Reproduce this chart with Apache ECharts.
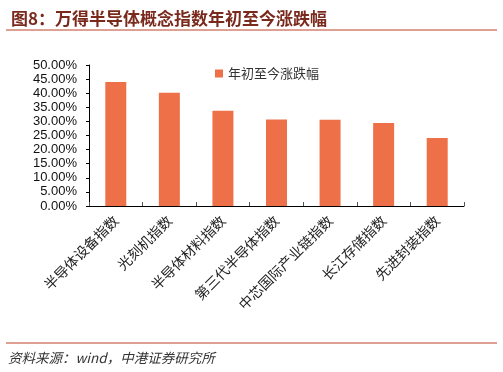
<!DOCTYPE html>
<html><head><meta charset="utf-8">
<script src="https://cdn.jsdelivr.net/npm/echarts@6/dist/echarts.min.js"></script>
<style>html,body{margin:0;padding:0;background:#fff}#c{width:503px;height:372px}</style>
</head><body><div id="c"></div>
<script>
const categories = ['半导体设备指数','光刻机指数','半导体材料指数','第三代半导体指数','中芯国际产业链指数','长江存储指数','先进封装指数'];
const values = [44.0, 40.2, 33.8, 30.7, 30.6, 29.4, 24.1];
const seriesName = '年初至今涨跌幅';
const titleText = '图8：万得半导体概念指数年初至今涨跌幅';
const sourceText = '资料来源：wind，中港证券研究所';

const chart = echarts.init(document.getElementById('c'), null, {renderer:'canvas'});
chart.setOption({
  animation:false,
  title:{text:titleText, left:6, top:5, textStyle:{fontSize:17, fontWeight:'bold', color:'#7a2a1c', fontFamily:'Noto Sans CJK SC'}},
  legend:{data:[seriesName], left:210, top:62, itemWidth:8, itemHeight:8, itemGap:4, icon:'rect',
    textStyle:{fontSize:13, color:'#333', fontFamily:'Noto Sans CJK SC'}},
  grid:{left:89, right:39, top:65, bottom:166},
  xAxis:{type:'category', data:categories,
    axisLine:{lineStyle:{color:'#000', width:1}},
    axisTick:{show:true, inside:true, length:4, lineStyle:{color:'#555'}},
    axisLabel:{rotate:45, interval:0, fontSize:14, color:'#222', margin:12, fontFamily:'Noto Sans CJK SC'}},
  yAxis:{type:'value', min:0, max:50, interval:5,
    axisLine:{show:true, lineStyle:{color:'#000'}},
    axisTick:{show:true, length:3, lineStyle:{color:'#000'}},
    splitLine:{show:false},
    axisLabel:{formatter:v=>v.toFixed(2)+'%', fontSize:13, color:'#111', margin:12,
      showMinLabel:true, showMaxLabel:true, fontFamily:'Liberation Sans'}},
  series:[{name:seriesName, type:'bar', data:values, barWidth:21, itemStyle:{color:'#ee7049'}}],
  graphic:[
    {type:'line', shape:{x1:6,y1:30,x2:497,y2:30}, style:{stroke:'#c0432a', lineWidth:1}},
    {type:'line', shape:{x1:6,y1:343,x2:497,y2:343}, style:{stroke:'#c0432a', lineWidth:1}},
    {type:'text', left:8, top:351, style:{text:sourceText, fontSize:13.5, fontStyle:'italic', fill:'#333', fontFamily:'Noto Sans CJK SC'}}
  ]
});
</script></body></html>
